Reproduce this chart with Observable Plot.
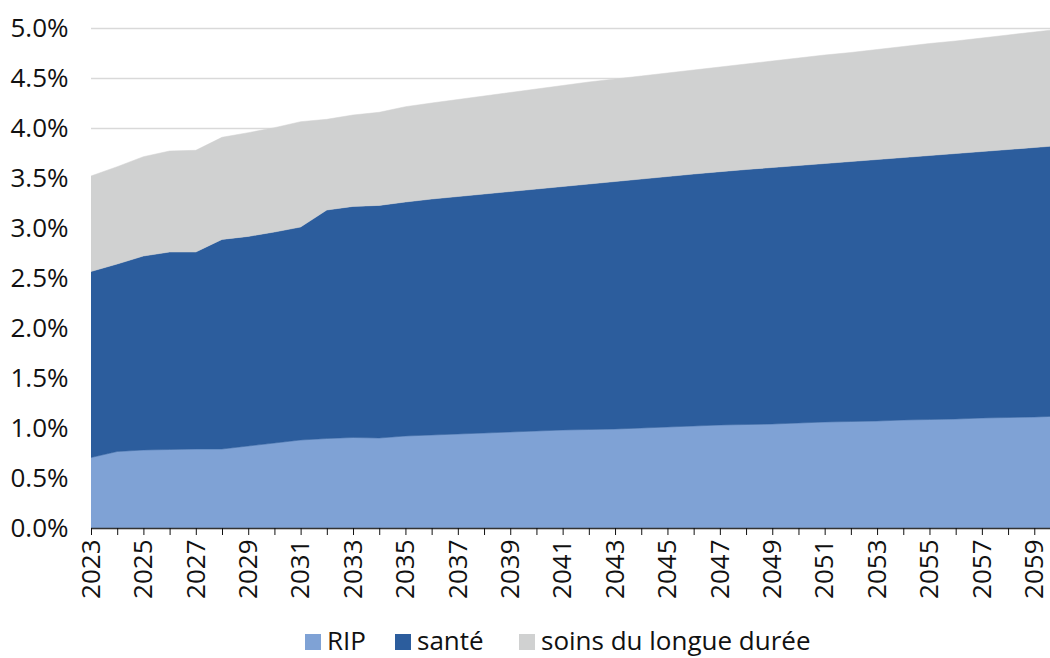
<!DOCTYPE html>
<html>
<head>
<meta charset="utf-8">
<script src="https://cdn.jsdelivr.net/npm/d3@7"></script>
<script src="https://cdn.jsdelivr.net/npm/@observablehq/plot@0.6"></script>
<style>
  html, body { margin: 0; padding: 0; background: #fff; }
  body { width: 1050px; height: 658px; overflow: hidden; font-family: "Open Sans", sans-serif; }
  #legend { position: absolute; left: 0; top: 620px; height: 38px; width: 1050px; font-size: 26px; line-height: 26px; color: #111; white-space: nowrap; }
  .item { position: absolute; top: 7px; }
  .sw { display: inline-block; width: 16px; height: 16px; margin-right: 6px; vertical-align: baseline; }
</style>
</head>
<body>
<div id="chart"></div>
<div id="legend"></div>
<script>
const years = [2023,2024,2025,2026,2027,2028,2029,2030,2031,2032,2033,2034,2035,2036,2037,2038,2039,2040,2041,2042,2043,2044,2045,2046,2047,2048,2049,2050,2051,2052,2053,2054,2055,2056,2057,2058,2059,2060];
const seriesNames = ["RIP", "santé", "soins du longue durée"];
const seriesColors = ["#7FA2D5", "#2C5D9D", "#D0D1D1"];
const rip = [0.705,0.765,0.78,0.785,0.79,0.79,0.82,0.85,0.88,0.895,0.905,0.90,0.92,0.93,0.94,0.95,0.96,0.97,0.98,0.985,0.99,1.00,1.01,1.02,1.03,1.035,1.04,1.05,1.06,1.065,1.07,1.08,1.085,1.09,1.10,1.105,1.11,1.12];
const sante = [1.86,1.875,1.94,1.975,1.97,2.096,2.096,2.11,2.13,2.285,2.311,2.326,2.34,2.36,2.375,2.39,2.405,2.42,2.435,2.455,2.475,2.49,2.505,2.52,2.533,2.55,2.565,2.575,2.585,2.60,2.615,2.625,2.64,2.655,2.665,2.68,2.695,2.705];
const soins = [0.955,0.973,0.993,1.01,1.017,1.021,1.037,1.043,1.053,0.907,0.914,0.931,0.953,0.96,0.97,0.98,0.99,1.00,1.01,1.02,1.025,1.03,1.035,1.04,1.047,1.055,1.065,1.075,1.085,1.09,1.10,1.11,1.12,1.125,1.135,1.145,1.155,1.165];
const yTicks = [0,0.5,1,1.5,2,2.5,3,3.5,4,4.5,5];
const xTicks = [2023,2024,2025,2026,2027,2028,2029,2030,2031,2032,2033,2034,2035,2036,2037,2038,2039,2040,2041,2042,2043,2044,2045,2046,2047,2048,2049,2050,2051,2052,2053,2054,2055,2056,2057,2058,2059];

const seriesValues = [rip, sante, soins];
const data = [];
seriesNames.forEach((s, i) => {
  years.forEach((yr, j) => data.push({year: yr, series: s, value: seriesValues[i][j]}));
});

const chart = Plot.plot({
  width: 1050,
  height: 620,
  marginTop: 28,
  marginBottom: 92,
  marginLeft: 91,
  marginRight: 0,
  style: {fontFamily: "'Open Sans', sans-serif", fontSize: "26px", color: "#111", background: "#fff", overflow: "visible"},
  x: {domain: [2023, 2059.6]},
  y: {domain: [0, 5]},
  color: {domain: seriesNames, range: seriesColors},
  marks: [
    Plot.gridY(yTicks, {stroke: "#d9d9d9", strokeOpacity: 1, strokeWidth: 1.5}),
    Plot.areaY(data, {x: "year", y: "value", fill: "series", stroke: "series", strokeWidth: 0.5, order: seriesNames, clip: true}),
    Plot.ruleY([0], {stroke: "#333", strokeWidth: 1.5}),
    Plot.axisX({ticks: xTicks, tickFormat: d => (d % 2 === 1 ? String(d) : ""), tickRotate: -90, tickSize: 7, tickPadding: 4, stroke: "#111", label: null}),
    Plot.axisY({ticks: yTicks, tickFormat: d => d.toFixed(1) + "%", tickSize: 0, tickPadding: 23, label: null})
  ]
});
document.getElementById("chart").appendChild(chart);

const legend = document.getElementById("legend");
const lefts = [305, 395, 519];
seriesNames.forEach((s, i) => {
  const item = document.createElement("span");
  item.className = "item";
  item.style.left = lefts[i] + "px";
  const sw = document.createElement("span");
  sw.className = "sw";
  sw.style.background = seriesColors[i];
  item.appendChild(sw);
  item.appendChild(document.createTextNode(s));
  legend.appendChild(item);
});
</script>
</body>
</html>
